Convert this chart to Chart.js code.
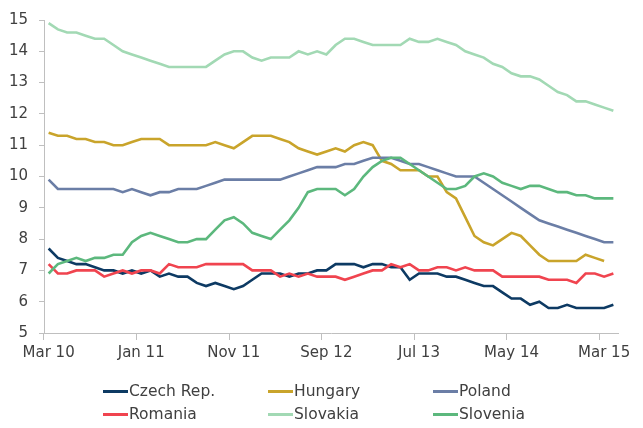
<!DOCTYPE html>
<html>
<head>
<meta charset="utf-8">
<script src="https://cdn.jsdelivr.net/npm/chart.js@4.4.1/dist/chart.umd.min.js"></script>
<style>
  html, body { margin: 0; padding: 0; background: #ffffff; }
  #wrap { position: relative; width: 643px; height: 428px; overflow: hidden; }
  #c { position: absolute; left: 0; top: 0; }
  .lg { position: absolute; height: 18px; display: flex; align-items: center;
        font-family: "DejaVu Sans", sans-serif; font-size: 15.5px; color: #404040; white-space: nowrap; }
  .lg span.ln { display: inline-block; width: 25px; height: 3px; margin-right: 1px; }
</style>
</head>
<body>
<div id="wrap">
  <canvas id="c" width="643" height="428"></canvas>
</div>
<script>
// ---- data (monthly, Mar 2010 – Apr 2015) ----
const months = [
  'Mar 10','Apr 10','May 10','Jun 10','Jul 10','Aug 10','Sep 10','Oct 10','Nov 10','Dec 10',
  'Jan 11','Feb 11','Mar 11','Apr 11','May 11','Jun 11','Jul 11','Aug 11','Sep 11','Oct 11','Nov 11','Dec 11',
  'Jan 12','Feb 12','Mar 12','Apr 12','May 12','Jun 12','Jul 12','Aug 12','Sep 12','Oct 12','Nov 12','Dec 12',
  'Jan 13','Feb 13','Mar 13','Apr 13','May 13','Jun 13','Jul 13','Aug 13','Sep 13','Oct 13','Nov 13','Dec 13',
  'Jan 14','Feb 14','Mar 14','Apr 14','May 14','Jun 14','Jul 14','Aug 14','Sep 14','Oct 14','Nov 14','Dec 14',
  'Jan 15','Feb 15','Mar 15','Apr 15'
];
const tickLabels = ['Mar 10','Jan 11','Nov 11','Sep 12','Jul 13','May 14','Mar 15'];

const seriesNames = ['Czech Rep.','Hungary','Poland','Romania','Slovakia','Slovenia'];

const czech = [7.7,7.4,7.3,7.2,7.2,7.1,7.0,7.0,6.9,7.0,
  6.9,7.0,6.8,6.9,6.8,6.8,6.6,6.5,6.6,6.5,
  6.4,6.5,6.7,6.9,6.9,6.9,6.8,6.9,6.9,7.0,
  7.0,7.2,7.2,7.2,7.1,7.2,7.2,7.1,7.1,6.7,
  6.9,6.9,6.9,6.8,6.8,6.7,6.6,6.5,6.5,6.3,
  6.1,6.1,5.9,6.0,5.8,5.8,5.9,5.8,5.8,5.8,
  5.8,5.9];
const hungary = [11.4,11.3,11.3,11.2,11.2,11.1,11.1,11.0,11.0,11.1,
  11.2,11.2,11.2,11.0,11.0,11.0,11.0,11.0,11.1,11.0,
  10.9,11.1,11.3,11.3,11.3,11.2,11.1,10.9,10.8,10.7,
  10.8,10.9,10.8,11.0,11.1,11.0,10.5,10.4,10.2,10.2,
  10.2,10.0,10.0,9.5,9.3,8.7,8.1,7.9,7.8,8.0,
  8.2,8.1,7.8,7.5,7.3,7.3,7.3,7.3,7.5,7.4,
  7.3,null];
const poland = [9.9,9.6,9.6,9.6,9.6,9.6,9.6,9.6,9.5,9.6,
  9.5,9.4,9.5,9.5,9.6,9.6,9.6,9.7,9.8,9.9,
  9.9,9.9,9.9,9.9,9.9,9.9,10.0,10.1,10.2,10.3,
  10.3,10.3,10.4,10.4,10.5,10.6,10.6,10.6,10.5,10.4,
  10.4,10.3,10.2,10.1,10.0,10.0,10.0,9.8,9.6,9.4,
  9.2,9.0,8.8,8.6,8.5,8.4,8.3,8.2,8.1,8.0,
  7.9,7.9];
const romania = [7.2,6.9,6.9,7.0,7.0,7.0,6.8,6.9,7.0,6.9,
  7.0,7.0,6.9,7.2,7.1,7.1,7.1,7.2,7.2,7.2,
  7.2,7.2,7.0,7.0,7.0,6.8,6.9,6.8,6.9,6.8,
  6.8,6.8,6.7,6.8,6.9,7.0,7.0,7.2,7.1,7.2,
  7.0,7.0,7.1,7.1,7.0,7.1,7.0,7.0,7.0,6.8,
  6.8,6.8,6.8,6.8,6.7,6.7,6.7,6.6,6.9,6.9,
  6.8,6.9];
const slovakia = [14.9,14.7,14.6,14.6,14.5,14.4,14.4,14.2,14.0,13.9,
  13.8,13.7,13.6,13.5,13.5,13.5,13.5,13.5,13.7,13.9,
  14.0,14.0,13.8,13.7,13.8,13.8,13.8,14.0,13.9,14.0,
  13.9,14.2,14.4,14.4,14.3,14.2,14.2,14.2,14.2,14.4,
  14.3,14.3,14.4,14.3,14.2,14.0,13.9,13.8,13.6,13.5,
  13.3,13.2,13.2,13.1,12.9,12.7,12.6,12.4,12.4,12.3,
  12.2,12.1];
const slovenia = [6.9,7.2,7.3,7.4,7.3,7.4,7.4,7.5,7.5,7.9,
  8.1,8.2,8.1,8.0,7.9,7.9,8.0,8.0,8.3,8.6,
  8.7,8.5,8.2,8.1,8.0,8.3,8.6,9.0,9.5,9.6,
  9.6,9.6,9.4,9.6,10.0,10.3,10.5,10.6,10.6,10.4,
  10.2,10.0,9.8,9.6,9.6,9.7,10.0,10.1,10.0,9.8,
  9.7,9.6,9.7,9.7,9.6,9.5,9.5,9.4,9.4,9.3,
  9.3,9.3];

const yTicks = [5,6,7,8,9,10,11,12,13,14,15];

// ---- styling ----
const colors = ['#0d3a63','#c9a42b','#6b7ea6','#f0444f','#a2d9b4','#5cb87d'];
const values = [czech, hungary, poland, romania, slovakia, slovenia];
const TXT = '#404040';
const AX = '#bfbfbf';
const FONT = { family: '"DejaVu Sans", sans-serif', size: 15 };

const datasets = seriesNames.map((n, i) => ({
  label: n,
  data: values[i],
  borderColor: colors[i],
  backgroundColor: colors[i],
  borderWidth: 2.6,
  pointRadius: 0,
  pointHoverRadius: 0,
  tension: 0,
  fill: false,
  spanGaps: false,
  order: seriesNames.length - i
}));

new Chart(document.getElementById('c'), {
  type: 'line',
  data: { labels: months, datasets },
  options: {
    responsive: false,
    animation: false,
    devicePixelRatio: 1,
    layout: { padding: { left: 0, top: 19, right: 25, bottom: 0 } },
    plugins: { legend: { display: false }, tooltip: { enabled: false } },
    scales: {
      x: {
        type: 'category',
        offset: true,
        afterFit: s => { s.height = 95; },
        grid: {
          offset: true,
          drawOnChartArea: false,
          drawTicks: true,
          tickLength: 7,
          tickColor: ctx => (ctx.index % 10 === 0 ? AX : 'rgba(0,0,0,0)'),
          lineWidth: 1
        },
        border: { display: true, color: AX, width: 1 },
        ticks: {
          autoSkip: false,
          maxRotation: 0,
          minRotation: 0,
          padding: 4,
          color: TXT,
          font: FONT,
          callback: function (v, i) {
            const l = months[i];
            return tickLabels.includes(l) ? l : '';
          }
        }
      },
      y: {
        min: 5,
        max: 15,
        afterFit: s => { s.width = 44; },
        afterBuildTicks: s => { s.ticks = yTicks.map(v => ({ value: v })); },
        grid: {
          drawOnChartArea: false,
          drawTicks: true,
          tickLength: 5,
          tickColor: AX
        },
        border: { display: true, color: AX, width: 1 },
        ticks: {
          padding: 11,
          color: TXT,
          font: FONT
        }
      }
    }
  }
});

// ---- legend (HTML, 3 columns x 2 rows) ----
const wrap = document.getElementById('wrap');
const colX = [103, 268, 433];
const rowY = [391, 414];
seriesNames.forEach((n, i) => {
  const d = document.createElement('div');
  d.className = 'lg';
  d.style.left = colX[i % 3] + 'px';
  d.style.top = (rowY[Math.floor(i / 3)] - 9) + 'px';
  const ln = document.createElement('span');
  ln.className = 'ln';
  ln.style.background = colors[i];
  d.appendChild(ln);
  d.appendChild(document.createTextNode(n));
  wrap.appendChild(d);
});
</script>
</body>
</html>
